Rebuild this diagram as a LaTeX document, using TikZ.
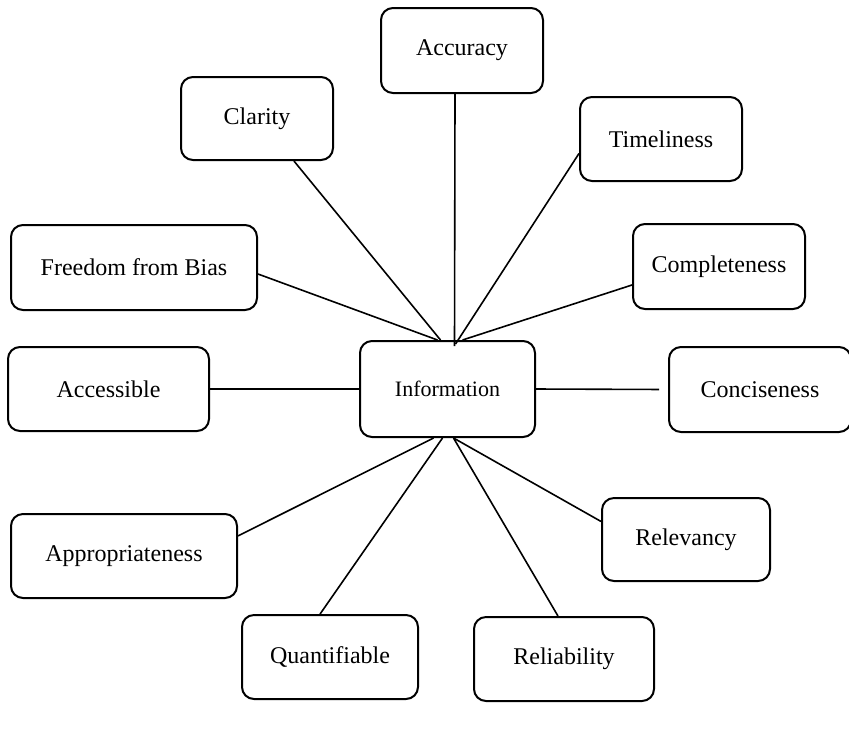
\documentclass[tikz,border=0pt]{standalone}
\usepackage{fontspec}
\setmainfont{Liberation Serif}
\usepackage{tikz}

\begin{document}
\begin{tikzpicture}[x=0.5pt, y=-0.5pt,
    box/.style={draw, line width=1pt, rounded corners=6pt, inner sep=0pt,
      align=center, font=\fontsize{12}{14}\selectfont},
    link/.style={draw, line width=0.8pt}]
	\useasboundingbox (0,0) rectangle (849,729);

	% outer boxes
	\node[box, minimum width=81pt, minimum height=42.5pt] (accu) at (462,50.5) {Accuracy};
	\node[box, minimum width=76pt, minimum height=41.5pt] (clar) at (257,118.5) {Clarity};
	\node[box, minimum width=81pt, minimum height=42pt] (time) at (661,139) {Timeliness};
	\node[box, minimum width=123pt, minimum height=42.5pt] (free) at (134,267.5) {Freedom from Bias};
	\node[box, minimum width=86pt, minimum height=42.5pt] (comp) at (719,266.5) {Completeness};
	\node[box, minimum width=100.5pt, minimum height=42pt] (acce) at (108.5,389) {Accessible};
	\node[box, minimum width=91pt, minimum height=42.5pt] (conc) at (760,389.5) {Conciseness};
	\node[box, minimum width=113pt, minimum height=42pt] (appr) at (124,556) {Appropriateness};
	\node[box, minimum width=84pt, minimum height=41.5pt] (relv) at (686,539.5) {Relevancy};
	\node[box, minimum width=88pt, minimum height=42pt] (quan) at (330,657) {Quantifiable};
	\node[box, minimum width=90pt, minimum height=42pt] (reli) at (564,659) {Reliability};

	% centre box
	\node[box, minimum width=87.5pt, minimum height=48pt,
	  font=\fontsize{11}{13}\selectfont] (info) at (447.5,389) {Information};

	% links to the top of the centre box
	\draw[link] (free.-3) -- ([xshift=-5pt]info.north);
	\draw[link] (clar.-49) -- ([xshift=-3.5pt]info.north);
	\draw[link] ([xshift=-3.5pt]accu.south) -- ([xshift=3.5pt, yshift=-3pt]info.north);
	\draw[link] (time.190) -- ([xshift=4pt, yshift=-2pt]info.north);
	\draw[link] (comp.192) -- ([xshift=7.5pt]info.north);

	% links to the sides
	\draw[link] (acce.east) -- (info.west);
	\draw[link, shorten >=4.5pt] (info.east) -- (conc.west);

	% links to the bottom of the centre box
	\draw[link] (appr.10) -- ([xshift=-7pt]info.south);
	\draw[link] (quan.103) -- ([xshift=-2.5pt]info.south);
	\draw[link] (reli.98) -- ([xshift=3pt]info.south);
	\draw[link] (relv.168) -- ([xshift=3pt]info.south);
\end{tikzpicture}
\end{document}
